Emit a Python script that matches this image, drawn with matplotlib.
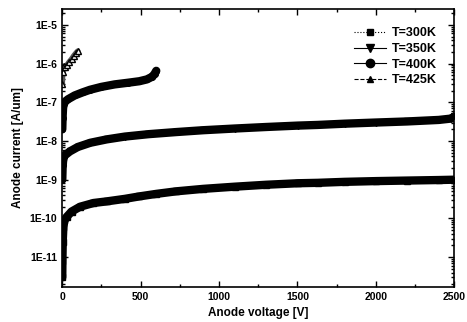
import matplotlib
matplotlib.use("Agg")
import matplotlib.pyplot as plt
from matplotlib.ticker import FixedLocator, NullFormatter, MultipleLocator

plt.rcParams['font.family'] = ['Liberation Sans', 'DejaVu Sans']

# values
v_300 = [1, 2, 4, 8, 15, 30, 60, 114, 200, 284, 400, 492, 600, 726, 900, 1100, 1300, 1503, 1629, 1800, 2000, 2200, 2400, 2500]
i_300 = [3e-12, 8e-12, 2.5e-11, 6e-11, 9e-11, 1.1e-10, 1.5e-10, 2e-10, 2.5e-10, 2.75e-10, 3.2e-10, 3.7e-10, 4.3e-10,
         5e-10, 5.8e-10, 6.6e-10, 7.4e-10, 8.1e-10, 8.3e-10, 8.8e-10, 9.2e-10, 9.5e-10, 9.8e-10, 1.0e-9]

v_350 = [1, 3, 6, 12, 25, 50, 100, 180, 284, 400, 550, 726, 900, 1100, 1300, 1503, 1629, 1800, 2000, 2200, 2400, 2480, 2500]
i_350 = [1e-9, 2e-9, 3e-9, 4e-9, 4.5e-9, 5.4e-9, 7e-9, 9e-9, 1.1e-8, 1.3e-8, 1.5e-8, 1.7e-8, 1.9e-8, 2.1e-8,
         2.3e-8, 2.5e-8, 2.6e-8, 2.8e-8, 3.0e-8, 3.2e-8, 3.5e-8, 3.8e-8, 4.3e-8]

v_400 = [1, 3, 6, 10, 20, 38, 80, 130, 177, 250, 335, 420, 492, 540, 575, 590, 600]
i_400 = [2e-8, 4e-8, 7e-8, 9e-8, 1.05e-7, 1.2e-7, 1.5e-7, 1.8e-7, 2.1e-7, 2.5e-7, 2.9e-7, 3.2e-7, 3.5e-7, 3.9e-7,
         4.6e-7, 5.5e-7, 6.5e-7]

v_425 = [1, 3, 6, 10, 20, 30, 45, 60, 75, 90, 100]
i_425 = [3e-7, 6e-7, 8e-7, 8.5e-7, 8e-7, 9e-7, 1.1e-6, 1.3e-6, 1.6e-6, 1.9e-6, 2.1e-6]

labels = ['T=300K', 'T=350K', 'T=400K', 'T=425K']

fig = plt.figure(figsize=(4.67, 3.22), dpi=100)
ax = fig.add_axes([0.133, 0.109, 0.840, 0.863])

ax.plot(v_300, i_300, color='black', lw=6, marker='s', ms=4, solid_capstyle='round')
ax.plot(v_350, i_350, color='black', lw=6, marker='v', ms=4, solid_capstyle='round')
ax.plot(v_400, i_400, color='black', lw=6, marker='o', ms=4, solid_capstyle='round')
ax.plot(v_425, i_425, color='#555555', lw=4, marker='^', ms=4, mfc='white', mec='black', solid_capstyle='round')

# legend handles (drawn outside the data range)
ax.plot([], [], color='black', lw=0.8, ls=':', marker='s', ms=5, label=labels[0])
ax.plot([], [], color='black', lw=0.8, marker='v', ms=6, label=labels[1])
ax.plot([], [], color='black', lw=0.8, marker='o', ms=6, label=labels[2])
ax.plot([], [], color='black', lw=0.8, ls='--', marker='^', ms=5, label=labels[3])
ax.legend(loc='upper right', bbox_to_anchor=(0.985, 0.975), frameon=False,
          handlelength=2.6, labelspacing=0.3, handletextpad=0.5,
          prop={'weight': 'bold', 'size': 9})

ax.set_yscale('log')
ax.set_xlim(0, 2500)
ax.set_ylim(10 ** -11.77, 10 ** -4.59)

yt = [1e-11, 1e-10, 1e-9, 1e-8, 1e-7, 1e-6, 1e-5]
ax.yaxis.set_major_locator(FixedLocator(yt))
ax.set_yticklabels(['1E-11', '1E-10', '1E-9', '1E-8', '1E-7', '1E-6', '1E-5'])
ax.yaxis.set_minor_formatter(NullFormatter())
ax.xaxis.set_major_locator(MultipleLocator(500))
ax.xaxis.set_minor_locator(MultipleLocator(250))

ax.tick_params(which='both', direction='in', top=True, right=True, labelsize=7.5, width=1)
ax.tick_params(which='major', length=4)
ax.tick_params(which='minor', length=2)
for lab in ax.get_xticklabels() + ax.get_yticklabels():
    lab.set_fontweight('bold')
for s in ax.spines.values():
    s.set_linewidth(1.2)

ax.set_xlabel('Anode voltage [V]', fontsize=8.5, fontweight='bold', labelpad=4)
ax.set_ylabel('Anode current [A/um]', fontsize=8.5, fontweight='bold', labelpad=4)

fig.savefig('out.png', dpi=100)
